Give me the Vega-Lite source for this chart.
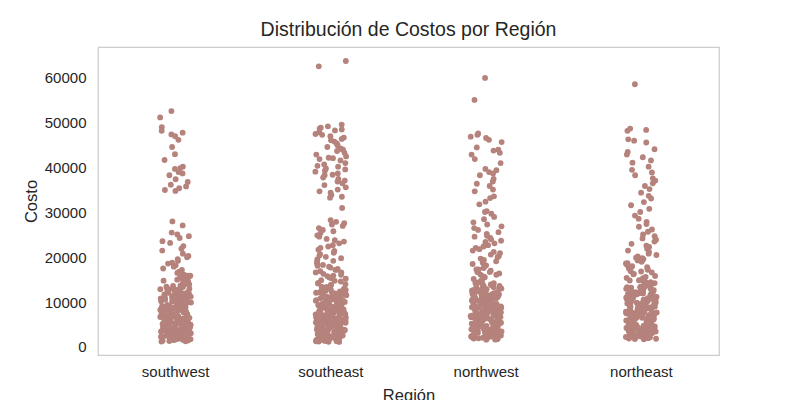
{
"$schema": "https://vega.github.io/schema/vega-lite/v6.json",
"width": 621, "height": 308,
"autosize": {"type": "none"},
"padding": {"left": 98, "top": 47, "right": 81, "bottom": 45},
"background": "white",
"title": {"text": "Distribución de Costos por Región", "fontSize": 19.5, "font": "Liberation Sans", "fontWeight": "normal", "color": "#262626", "offset": 7, "anchor": "middle"},
"data": {"values": [
{"region":"southwest","cost":52600},{"region":"southwest","cost":51200},{"region":"southwest","cost":49000},{"region":"southwest","cost":48200},{"region":"southwest","cost":47800},{"region":"southwest","cost":47400},{"region":"southwest","cost":47000},{"region":"southwest","cost":46200},{"region":"southwest","cost":44600},{"region":"southwest","cost":43000},{"region":"southwest","cost":41700},{"region":"southwest","cost":40200},{"region":"southwest","cost":39900},{"region":"southwest","cost":39700},{"region":"southwest","cost":39000},{"region":"southwest","cost":38700},{"region":"southwest","cost":38300},{"region":"southwest","cost":37400},{"region":"southwest","cost":36800},{"region":"southwest","cost":36200},{"region":"southwest","cost":35800},{"region":"southwest","cost":35400},{"region":"southwest","cost":35000},{"region":"southwest","cost":34800},
{"region":"southwest","cost":28000},{"region":"southwest","cost":27100},{"region":"southwest","cost":25500},{"region":"southwest","cost":25100},{"region":"southwest","cost":24700},{"region":"southwest","cost":24300},{"region":"southwest","cost":23600},{"region":"southwest","cost":23200},{"region":"southwest","cost":22500},{"region":"southwest","cost":21900},{"region":"southwest","cost":21500},{"region":"southwest","cost":20800},{"region":"southwest","cost":20300},{"region":"southwest","cost":20000},{"region":"southwest","cost":19600},{"region":"southwest","cost":19200},{"region":"southwest","cost":18800},{"region":"southwest","cost":18600},{"region":"southwest","cost":18200},{"region":"southwest","cost":17900},{"region":"southwest","cost":17500},{"region":"southwest","cost":17200},{"region":"southwest","cost":16800},{"region":"southwest","cost":16500},{"region":"southwest","cost":16200},{"region":"southwest","cost":15900},{"region":"southwest","cost":15600},{"region":"southwest","cost":15300},{"region":"southwest","cost":15000},{"region":"southwest","cost":14800},
{"region":"southwest","cost":1242},{"region":"southwest","cost":1391},{"region":"southwest","cost":1526},{"region":"southwest","cost":1634},{"region":"southwest","cost":1728},{"region":"southwest","cost":1837},{"region":"southwest","cost":1906},{"region":"southwest","cost":2020},{"region":"southwest","cost":2130},{"region":"southwest","cost":2254},{"region":"southwest","cost":2395},{"region":"southwest","cost":2483},{"region":"southwest","cost":2597},{"region":"southwest","cost":2709},{"region":"southwest","cost":2846},{"region":"southwest","cost":2913},{"region":"southwest","cost":3047},{"region":"southwest","cost":3161},{"region":"southwest","cost":3279},{"region":"southwest","cost":3392},{"region":"southwest","cost":3471},{"region":"southwest","cost":3594},{"region":"southwest","cost":3688},{"region":"southwest","cost":3756},{"region":"southwest","cost":3869},{"region":"southwest","cost":3982},{"region":"southwest","cost":4058},{"region":"southwest","cost":4149},{"region":"southwest","cost":4262},{"region":"southwest","cost":4358},{"region":"southwest","cost":4441},{"region":"southwest","cost":4563},{"region":"southwest","cost":4687},{"region":"southwest","cost":4739},{"region":"southwest","cost":4827},{"region":"southwest","cost":4949},{"region":"southwest","cost":5031},{"region":"southwest","cost":5152},{"region":"southwest","cost":5273},{"region":"southwest","cost":5346},{"region":"southwest","cost":5428},{"region":"southwest","cost":5579},{"region":"southwest","cost":5636},{"region":"southwest","cost":5745},{"region":"southwest","cost":5819},{"region":"southwest","cost":5938},{"region":"southwest","cost":6048},{"region":"southwest","cost":6129},{"region":"southwest","cost":6253},{"region":"southwest","cost":6378},{"region":"southwest","cost":6449},{"region":"southwest","cost":6557},{"region":"southwest","cost":6613},{"region":"southwest","cost":6742},{"region":"southwest","cost":6858},{"region":"southwest","cost":6921},{"region":"southwest","cost":7046},{"region":"southwest","cost":7152},{"region":"southwest","cost":7281},{"region":"southwest","cost":7334},{"region":"southwest","cost":7448},{"region":"southwest","cost":7562},{"region":"southwest","cost":7639},{"region":"southwest","cost":7731},{"region":"southwest","cost":7859},{"region":"southwest","cost":7947},{"region":"southwest","cost":8026},{"region":"southwest","cost":8151},{"region":"southwest","cost":8273},{"region":"southwest","cost":8342},{"region":"southwest","cost":8457},{"region":"southwest","cost":8569},{"region":"southwest","cost":8688},{"region":"southwest","cost":8752},{"region":"southwest","cost":8861},{"region":"southwest","cost":8974},{"region":"southwest","cost":9072},{"region":"southwest","cost":9183},{"region":"southwest","cost":9251},{"region":"southwest","cost":9377},{"region":"southwest","cost":9482},{"region":"southwest","cost":9593},{"region":"southwest","cost":9641},{"region":"southwest","cost":9788},{"region":"southwest","cost":9857},{"region":"southwest","cost":9962},{"region":"southwest","cost":10096},{"region":"southwest","cost":10178},{"region":"southwest","cost":10243},{"region":"southwest","cost":10362},{"region":"southwest","cost":10493},{"region":"southwest","cost":10579},{"region":"southwest","cost":10643},{"region":"southwest","cost":10797},{"region":"southwest","cost":10846},{"region":"southwest","cost":10972},{"region":"southwest","cost":11087},{"region":"southwest","cost":11163},{"region":"southwest","cost":11281},{"region":"southwest","cost":11356},{"region":"southwest","cost":11482},{"region":"southwest","cost":11574},{"region":"southwest","cost":11693},{"region":"southwest","cost":11747},{"region":"southwest","cost":11836},{"region":"southwest","cost":11958},{"region":"southwest","cost":12044},{"region":"southwest","cost":12157},{"region":"southwest","cost":12263},{"region":"southwest","cost":12395},{"region":"southwest","cost":12487},{"region":"southwest","cost":12531},{"region":"southwest","cost":12688},{"region":"southwest","cost":12741},{"region":"southwest","cost":12893},{"region":"southwest","cost":12977},{"region":"southwest","cost":13143},{"region":"southwest","cost":13298},{"region":"southwest","cost":13462},{"region":"southwest","cost":13689},{"region":"southwest","cost":13857},{"region":"southwest","cost":14096},{"region":"southwest","cost":14328},{"region":"southwest","cost":14561},
{"region":"southwest","cost":1187},{"region":"southwest","cost":1305},{"region":"southwest","cost":1459},{"region":"southwest","cost":1572},{"region":"southwest","cost":1688},{"region":"southwest","cost":1779},{"region":"southwest","cost":1893},{"region":"southwest","cost":1964},{"region":"southwest","cost":2077},{"region":"southwest","cost":2196},{"region":"southwest","cost":2318},{"region":"southwest","cost":2441},{"region":"southwest","cost":2553},{"region":"southwest","cost":2662},{"region":"southwest","cost":2788},{"region":"southwest","cost":2871},{"region":"southwest","cost":2995},{"region":"southwest","cost":3108},{"region":"southwest","cost":3224},{"region":"southwest","cost":3336},{"region":"southwest","cost":3427},{"region":"southwest","cost":3549},{"region":"southwest","cost":3637},{"region":"southwest","cost":3812},{"region":"southwest","cost":3924},{"region":"southwest","cost":4013},{"region":"southwest","cost":4207},{"region":"southwest","cost":4315},{"region":"southwest","cost":4496},{"region":"southwest","cost":4612},{"region":"southwest","cost":4778},{"region":"southwest","cost":4893},{"region":"southwest","cost":5097},{"region":"southwest","cost":5214},{"region":"southwest","cost":5391},{"region":"southwest","cost":5517},{"region":"southwest","cost":5693},{"region":"southwest","cost":5872},{"region":"southwest","cost":5989},{"region":"southwest","cost":6187},{"region":"southwest","cost":6316},{"region":"southwest","cost":6493},{"region":"southwest","cost":6682},{"region":"southwest","cost":6794},{"region":"southwest","cost":6973},{"region":"southwest","cost":7108},{"region":"southwest","cost":7237},{"region":"southwest","cost":7396},{"region":"southwest","cost":7513},{"region":"southwest","cost":7688},{"region":"southwest","cost":7796},{"region":"southwest","cost":7912},{"region":"southwest","cost":8087},{"region":"southwest","cost":8219},{"region":"southwest","cost":8398},{"region":"southwest","cost":8513},{"region":"southwest","cost":8624},{"region":"southwest","cost":8817},{"region":"southwest","cost":8923},{"region":"southwest","cost":9136},{"region":"southwest","cost":9317},{"region":"southwest","cost":9438},{"region":"southwest","cost":9524},{"region":"southwest","cost":9716},{"region":"southwest","cost":9913},{"region":"southwest","cost":10038},{"region":"southwest","cost":10219},{"region":"southwest","cost":10417},{"region":"southwest","cost":10534},{"region":"southwest","cost":10718},{"region":"southwest","cost":10917},{"region":"southwest","cost":11042},{"region":"southwest","cost":11223},{"region":"southwest","cost":11418},{"region":"southwest","cost":11637},{"region":"southwest","cost":11892},{"region":"southwest","cost":12103},{"region":"southwest","cost":12316},{"region":"southwest","cost":12624},{"region":"southwest","cost":12836},{"region":"southwest","cost":13067},{"region":"southwest","cost":13381},{"region":"southwest","cost":13594},{"region":"southwest","cost":13972},{"region":"southwest","cost":14213},{"region":"southwest","cost":14788},{"region":"southwest","cost":15132},{"region":"southwest","cost":15473},{"region":"southwest","cost":15891},{"region":"southwest","cost":16347},

{"region":"southeast","cost":63770},{"region":"southeast","cost":62590},
{"region":"southeast","cost":49600},{"region":"southeast","cost":49200},{"region":"southeast","cost":48900},{"region":"southeast","cost":48700},{"region":"southeast","cost":48500},{"region":"southeast","cost":48300},{"region":"southeast","cost":47900},{"region":"southeast","cost":47500},{"region":"southeast","cost":47300},{"region":"southeast","cost":47000},{"region":"southeast","cost":46700},{"region":"southeast","cost":46400},{"region":"southeast","cost":46100},{"region":"southeast","cost":45800},{"region":"southeast","cost":45400},{"region":"southeast","cost":45000},{"region":"southeast","cost":44600},{"region":"southeast","cost":44200},{"region":"southeast","cost":44000},{"region":"southeast","cost":43700},{"region":"southeast","cost":43300},{"region":"southeast","cost":42900},{"region":"southeast","cost":42500},{"region":"southeast","cost":42200},{"region":"southeast","cost":42100},{"region":"southeast","cost":41900},{"region":"southeast","cost":41600},{"region":"southeast","cost":41000},{"region":"southeast","cost":40700},{"region":"southeast","cost":40400},{"region":"southeast","cost":40200},{"region":"southeast","cost":39800},{"region":"southeast","cost":39600},{"region":"southeast","cost":39300},{"region":"southeast","cost":39100},{"region":"southeast","cost":38700},{"region":"southeast","cost":38400},{"region":"southeast","cost":38300},{"region":"southeast","cost":37800},{"region":"southeast","cost":37500},{"region":"southeast","cost":37100},{"region":"southeast","cost":36900},{"region":"southeast","cost":36500},{"region":"southeast","cost":36100},{"region":"southeast","cost":35600},{"region":"southeast","cost":35100},{"region":"southeast","cost":34700},{"region":"southeast","cost":34400},{"region":"southeast","cost":33900},{"region":"southeast","cost":33500},{"region":"southeast","cost":33300},{"region":"southeast","cost":31000},
{"region":"southeast","cost":28300},{"region":"southeast","cost":27900},{"region":"southeast","cost":27600},{"region":"southeast","cost":27300},{"region":"southeast","cost":27000},{"region":"southeast","cost":26500},{"region":"southeast","cost":26100},{"region":"southeast","cost":25800},{"region":"southeast","cost":25400},{"region":"southeast","cost":24900},{"region":"southeast","cost":24600},{"region":"southeast","cost":24100},{"region":"southeast","cost":23800},{"region":"southeast","cost":23500},{"region":"southeast","cost":23100},{"region":"southeast","cost":22700},{"region":"southeast","cost":22400},{"region":"southeast","cost":22100},{"region":"southeast","cost":21700},{"region":"southeast","cost":21400},{"region":"southeast","cost":21000},{"region":"southeast","cost":20700},{"region":"southeast","cost":20400},{"region":"southeast","cost":20100},{"region":"southeast","cost":19800},{"region":"southeast","cost":19500},{"region":"southeast","cost":19200},{"region":"southeast","cost":18900},{"region":"southeast","cost":18700},{"region":"southeast","cost":18500},{"region":"southeast","cost":18300},{"region":"southeast","cost":18100},{"region":"southeast","cost":17900},{"region":"southeast","cost":17700},{"region":"southeast","cost":17400},{"region":"southeast","cost":17200},{"region":"southeast","cost":16900},{"region":"southeast","cost":16600},{"region":"southeast","cost":16300},{"region":"southeast","cost":16100},{"region":"southeast","cost":15800},{"region":"southeast","cost":15500},{"region":"southeast","cost":15200},{"region":"southeast","cost":14900},{"region":"southeast","cost":14600},{"region":"southeast","cost":14300},{"region":"southeast","cost":14000},{"region":"southeast","cost":13700},
{"region":"southeast","cost":1121},{"region":"southeast","cost":1252},{"region":"southeast","cost":1338},{"region":"southeast","cost":1467},{"region":"southeast","cost":1581},{"region":"southeast","cost":1633},{"region":"southeast","cost":1725},{"region":"southeast","cost":1842},{"region":"southeast","cost":1906},{"region":"southeast","cost":1989},{"region":"southeast","cost":2103},{"region":"southeast","cost":2217},{"region":"southeast","cost":2302},{"region":"southeast","cost":2419},{"region":"southeast","cost":2522},{"region":"southeast","cost":2636},{"region":"southeast","cost":2751},{"region":"southeast","cost":2803},{"region":"southeast","cost":2927},{"region":"southeast","cost":3046},{"region":"southeast","cost":3153},{"region":"southeast","cost":3268},{"region":"southeast","cost":3341},{"region":"southeast","cost":3479},{"region":"southeast","cost":3558},{"region":"southeast","cost":3617},{"region":"southeast","cost":3749},{"region":"southeast","cost":3862},{"region":"southeast","cost":3947},{"region":"southeast","cost":4033},{"region":"southeast","cost":4151},{"region":"southeast","cost":4279},{"region":"southeast","cost":4346},{"region":"southeast","cost":4427},{"region":"southeast","cost":4562},{"region":"southeast","cost":4688},{"region":"southeast","cost":4719},{"region":"southeast","cost":4836},{"region":"southeast","cost":4958},{"region":"southeast","cost":5013},{"region":"southeast","cost":5134},{"region":"southeast","cost":5247},{"region":"southeast","cost":5389},{"region":"southeast","cost":5472},{"region":"southeast","cost":5519},{"region":"southeast","cost":5668},{"region":"southeast","cost":5724},{"region":"southeast","cost":5853},{"region":"southeast","cost":5941},{"region":"southeast","cost":6079},{"region":"southeast","cost":6182},{"region":"southeast","cost":6248},{"region":"southeast","cost":6351},{"region":"southeast","cost":6497},{"region":"southeast","cost":6573},{"region":"southeast","cost":6666},{"region":"southeast","cost":6781},{"region":"southeast","cost":6829},{"region":"southeast","cost":6953},{"region":"southeast","cost":7074},{"region":"southeast","cost":7148},{"region":"southeast","cost":7263},{"region":"southeast","cost":7387},{"region":"southeast","cost":7415},{"region":"southeast","cost":7548},{"region":"southeast","cost":7639},{"region":"southeast","cost":7722},{"region":"southeast","cost":7883},{"region":"southeast","cost":7961},{"region":"southeast","cost":8027},{"region":"southeast","cost":8123},{"region":"southeast","cost":8291},{"region":"southeast","cost":8358},{"region":"southeast","cost":8437},{"region":"southeast","cost":8571},{"region":"southeast","cost":8629},{"region":"southeast","cost":8746},{"region":"southeast","cost":8874},{"region":"southeast","cost":8932},{"region":"southeast","cost":9068},{"region":"southeast","cost":9147},{"region":"southeast","cost":9285},{"region":"southeast","cost":9336},{"region":"southeast","cost":9471},{"region":"southeast","cost":9523},{"region":"southeast","cost":9682},{"region":"southeast","cost":9744},{"region":"southeast","cost":9851},{"region":"southeast","cost":9978},{"region":"southeast","cost":10043},{"region":"southeast","cost":10197},{"region":"southeast","cost":10265},{"region":"southeast","cost":10382},{"region":"southeast","cost":10436},{"region":"southeast","cost":10587},{"region":"southeast","cost":10648},{"region":"southeast","cost":10774},{"region":"southeast","cost":10831},{"region":"southeast","cost":10965},{"region":"southeast","cost":11072},{"region":"southeast","cost":11194},{"region":"southeast","cost":11243},{"region":"southeast","cost":11386},{"region":"southeast","cost":11451},{"region":"southeast","cost":11597},{"region":"southeast","cost":11662},{"region":"southeast","cost":11738},{"region":"southeast","cost":11883},{"region":"southeast","cost":11947},{"region":"southeast","cost":12089},{"region":"southeast","cost":12162},{"region":"southeast","cost":12277},{"region":"southeast","cost":12394},{"region":"southeast","cost":12456},{"region":"southeast","cost":12582},{"region":"southeast","cost":12691},{"region":"southeast","cost":12739},{"region":"southeast","cost":12874},{"region":"southeast","cost":12963},{"region":"southeast","cost":13096},{"region":"southeast","cost":13218},{"region":"southeast","cost":13377},
{"region":"southeast","cost":1163},{"region":"southeast","cost":1217},{"region":"southeast","cost":1294},{"region":"southeast","cost":1388},{"region":"southeast","cost":1429},{"region":"southeast","cost":1516},{"region":"southeast","cost":1678},{"region":"southeast","cost":1763},{"region":"southeast","cost":1871},{"region":"southeast","cost":1947},{"region":"southeast","cost":2061},{"region":"southeast","cost":2158},{"region":"southeast","cost":2264},{"region":"southeast","cost":2347},{"region":"southeast","cost":2476},{"region":"southeast","cost":2583},{"region":"southeast","cost":2694},{"region":"southeast","cost":2869},{"region":"southeast","cost":2981},{"region":"southeast","cost":3097},{"region":"southeast","cost":3214},{"region":"southeast","cost":3397},{"region":"southeast","cost":3512},{"region":"southeast","cost":3683},{"region":"southeast","cost":3794},{"region":"southeast","cost":3906},{"region":"southeast","cost":4074},{"region":"southeast","cost":4198},{"region":"southeast","cost":4313},{"region":"southeast","cost":4487},{"region":"southeast","cost":4617},{"region":"southeast","cost":4793},{"region":"southeast","cost":4886},{"region":"southeast","cost":5068},{"region":"southeast","cost":5193},{"region":"southeast","cost":5326},{"region":"southeast","cost":5437},{"region":"southeast","cost":5591},{"region":"southeast","cost":5786},{"region":"southeast","cost":5897},{"region":"southeast","cost":6023},{"region":"southeast","cost":6134},{"region":"southeast","cost":6298},{"region":"southeast","cost":6412},{"region":"southeast","cost":6538},{"region":"southeast","cost":6627},{"region":"southeast","cost":6738},{"region":"southeast","cost":6891},{"region":"southeast","cost":7013},{"region":"southeast","cost":7197},{"region":"southeast","cost":7329},{"region":"southeast","cost":7468},{"region":"southeast","cost":7597},{"region":"southeast","cost":7761},{"region":"southeast","cost":7846},{"region":"southeast","cost":8073},{"region":"southeast","cost":8219},{"region":"southeast","cost":8396},{"region":"southeast","cost":8512},{"region":"southeast","cost":8694},{"region":"southeast","cost":8817},{"region":"southeast","cost":8979},{"region":"southeast","cost":9118},{"region":"southeast","cost":9247},{"region":"southeast","cost":9398},{"region":"southeast","cost":9583},{"region":"southeast","cost":9717},{"region":"southeast","cost":9893},{"region":"southeast","cost":10116},{"region":"southeast","cost":10328},{"region":"southeast","cost":10513},{"region":"southeast","cost":10719},{"region":"southeast","cost":10897},{"region":"southeast","cost":11128},{"region":"southeast","cost":11317},{"region":"southeast","cost":11528},{"region":"southeast","cost":11793},{"region":"southeast","cost":11986},{"region":"southeast","cost":12217},{"region":"southeast","cost":12538},{"region":"southeast","cost":12816},{"region":"southeast","cost":13149},{"region":"southeast","cost":13462},{"region":"southeast","cost":13893},{"region":"southeast","cost":14168},{"region":"southeast","cost":14739},{"region":"southeast","cost":15318},{"region":"southeast","cost":15917},{"region":"southeast","cost":16624},{"region":"southeast","cost":17193},

{"region":"northwest","cost":60000},{"region":"northwest","cost":55100},
{"region":"northwest","cost":47600},{"region":"northwest","cost":47300},{"region":"northwest","cost":46900},{"region":"northwest","cost":46600},{"region":"northwest","cost":46200},{"region":"northwest","cost":45700},{"region":"northwest","cost":44500},{"region":"northwest","cost":44000},{"region":"northwest","cost":43800},{"region":"northwest","cost":43300},{"region":"northwest","cost":42900},{"region":"northwest","cost":41900},{"region":"northwest","cost":41000},{"region":"northwest","cost":39700},{"region":"northwest","cost":39400},{"region":"northwest","cost":39000},{"region":"northwest","cost":38700},{"region":"northwest","cost":38300},{"region":"northwest","cost":37500},{"region":"northwest","cost":36900},{"region":"northwest","cost":36400},{"region":"northwest","cost":35900},{"region":"northwest","cost":35100},{"region":"northwest","cost":34700},{"region":"northwest","cost":33600},{"region":"northwest","cost":33200},{"region":"northwest","cost":32400},{"region":"northwest","cost":31800},{"region":"northwest","cost":30300},{"region":"northwest","cost":30100},{"region":"northwest","cost":29700},{"region":"northwest","cost":29000},
{"region":"northwest","cost":28500},{"region":"northwest","cost":27800},{"region":"northwest","cost":27300},{"region":"northwest","cost":26900},{"region":"northwest","cost":26500},{"region":"northwest","cost":26100},{"region":"northwest","cost":25600},{"region":"northwest","cost":25200},{"region":"northwest","cost":24800},{"region":"northwest","cost":24600},{"region":"northwest","cost":24300},{"region":"northwest","cost":24000},{"region":"northwest","cost":23700},{"region":"northwest","cost":23400},{"region":"northwest","cost":23100},{"region":"northwest","cost":22700},{"region":"northwest","cost":22400},{"region":"northwest","cost":22100},{"region":"northwest","cost":21800},{"region":"northwest","cost":21500},{"region":"northwest","cost":21200},{"region":"northwest","cost":20900},{"region":"northwest","cost":20600},{"region":"northwest","cost":20300},{"region":"northwest","cost":20000},{"region":"northwest","cost":19700},{"region":"northwest","cost":19400},{"region":"northwest","cost":19100},{"region":"northwest","cost":18800},{"region":"northwest","cost":18500},{"region":"northwest","cost":18200},{"region":"northwest","cost":17900},{"region":"northwest","cost":17600},{"region":"northwest","cost":17300},{"region":"northwest","cost":17000},{"region":"northwest","cost":16700},{"region":"northwest","cost":16400},{"region":"northwest","cost":16100},{"region":"northwest","cost":15800},{"region":"northwest","cost":15500},
{"region":"northwest","cost":1621},{"region":"northwest","cost":1719},{"region":"northwest","cost":1832},{"region":"northwest","cost":1927},{"region":"northwest","cost":2048},{"region":"northwest","cost":2139},{"region":"northwest","cost":2254},{"region":"northwest","cost":2357},{"region":"northwest","cost":2461},{"region":"northwest","cost":2538},{"region":"northwest","cost":2685},{"region":"northwest","cost":2753},{"region":"northwest","cost":2867},{"region":"northwest","cost":2979},{"region":"northwest","cost":3061},{"region":"northwest","cost":3172},{"region":"northwest","cost":3297},{"region":"northwest","cost":3368},{"region":"northwest","cost":3491},{"region":"northwest","cost":3582},{"region":"northwest","cost":3659},{"region":"northwest","cost":3771},{"region":"northwest","cost":3893},{"region":"northwest","cost":3958},{"region":"northwest","cost":4094},{"region":"northwest","cost":4186},{"region":"northwest","cost":4239},{"region":"northwest","cost":4352},{"region":"northwest","cost":4478},{"region":"northwest","cost":4563},{"region":"northwest","cost":4697},{"region":"northwest","cost":4751},{"region":"northwest","cost":4888},{"region":"northwest","cost":4925},{"region":"northwest","cost":5078},{"region":"northwest","cost":5163},{"region":"northwest","cost":5216},{"region":"northwest","cost":5349},{"region":"northwest","cost":5487},{"region":"northwest","cost":5541},{"region":"northwest","cost":5663},{"region":"northwest","cost":5798},{"region":"northwest","cost":5836},{"region":"northwest","cost":5977},{"region":"northwest","cost":6043},{"region":"northwest","cost":6158},{"region":"northwest","cost":6271},{"region":"northwest","cost":6393},{"region":"northwest","cost":6426},{"region":"northwest","cost":6582},{"region":"northwest","cost":6638},{"region":"northwest","cost":6757},{"region":"northwest","cost":6879},{"region":"northwest","cost":6914},{"region":"northwest","cost":7058},{"region":"northwest","cost":7163},{"region":"northwest","cost":7229},{"region":"northwest","cost":7348},{"region":"northwest","cost":7466},{"region":"northwest","cost":7592},{"region":"northwest","cost":7637},{"region":"northwest","cost":7783},{"region":"northwest","cost":7846},{"region":"northwest","cost":7969},{"region":"northwest","cost":8091},{"region":"northwest","cost":8138},{"region":"northwest","cost":8267},{"region":"northwest","cost":8352},{"region":"northwest","cost":8489},{"region":"northwest","cost":8526},{"region":"northwest","cost":8643},{"region":"northwest","cost":8798},{"region":"northwest","cost":8859},{"region":"northwest","cost":8987},{"region":"northwest","cost":9039},{"region":"northwest","cost":9174},{"region":"northwest","cost":9288},{"region":"northwest","cost":9316},{"region":"northwest","cost":9457},{"region":"northwest","cost":9563},{"region":"northwest","cost":9691},{"region":"northwest","cost":9742},{"region":"northwest","cost":9864},{"region":"northwest","cost":9938},{"region":"northwest","cost":10079},{"region":"northwest","cost":10152},{"region":"northwest","cost":10296},{"region":"northwest","cost":10347},{"region":"northwest","cost":10468},{"region":"northwest","cost":10583},{"region":"northwest","cost":10629},{"region":"northwest","cost":10762},{"region":"northwest","cost":10891},{"region":"northwest","cost":10943},{"region":"northwest","cost":11068},{"region":"northwest","cost":11187},{"region":"northwest","cost":11232},{"region":"northwest","cost":11379},{"region":"northwest","cost":11448},{"region":"northwest","cost":11563},{"region":"northwest","cost":11691},{"region":"northwest","cost":11756},{"region":"northwest","cost":11873},{"region":"northwest","cost":11994},{"region":"northwest","cost":12086},{"region":"northwest","cost":12137},{"region":"northwest","cost":12268},{"region":"northwest","cost":12355},{"region":"northwest","cost":12497},{"region":"northwest","cost":12574},{"region":"northwest","cost":12682},{"region":"northwest","cost":12749},{"region":"northwest","cost":12898},{"region":"northwest","cost":12963},{"region":"northwest","cost":13089},{"region":"northwest","cost":13242},{"region":"northwest","cost":13395},{"region":"northwest","cost":13557},{"region":"northwest","cost":13686},{"region":"northwest","cost":13842},{"region":"northwest","cost":14037},{"region":"northwest","cost":14213},{"region":"northwest","cost":14452},{"region":"northwest","cost":14689},{"region":"northwest","cost":14932},
{"region":"northwest","cost":1642},{"region":"northwest","cost":1768},{"region":"northwest","cost":1881},{"region":"northwest","cost":1973},{"region":"northwest","cost":2093},{"region":"northwest","cost":2198},{"region":"northwest","cost":2311},{"region":"northwest","cost":2409},{"region":"northwest","cost":2497},{"region":"northwest","cost":2614},{"region":"northwest","cost":2719},{"region":"northwest","cost":2812},{"region":"northwest","cost":2936},{"region":"northwest","cost":3019},{"region":"northwest","cost":3128},{"region":"northwest","cost":3243},{"region":"northwest","cost":3331},{"region":"northwest","cost":3447},{"region":"northwest","cost":3538},{"region":"northwest","cost":3617},{"region":"northwest","cost":3724},{"region":"northwest","cost":3836},{"region":"northwest","cost":3919},{"region":"northwest","cost":4046},{"region":"northwest","cost":4137},{"region":"northwest","cost":4293},{"region":"northwest","cost":4417},{"region":"northwest","cost":4528},{"region":"northwest","cost":4649},{"region":"northwest","cost":4817},{"region":"northwest","cost":4963},{"region":"northwest","cost":5117},{"region":"northwest","cost":5287},{"region":"northwest","cost":5413},{"region":"northwest","cost":5598},{"region":"northwest","cost":5719},{"region":"northwest","cost":5893},{"region":"northwest","cost":6094},{"region":"northwest","cost":6213},{"region":"northwest","cost":6338},{"region":"northwest","cost":6497},{"region":"northwest","cost":6693},{"region":"northwest","cost":6817},{"region":"northwest","cost":6972},{"region":"northwest","cost":7097},{"region":"northwest","cost":7286},{"region":"northwest","cost":7413},{"region":"northwest","cost":7548},{"region":"northwest","cost":7719},{"region":"northwest","cost":7894},{"region":"northwest","cost":8036},{"region":"northwest","cost":8193},{"region":"northwest","cost":8317},{"region":"northwest","cost":8438},{"region":"northwest","cost":8597},{"region":"northwest","cost":8718},{"region":"northwest","cost":8913},{"region":"northwest","cost":9097},{"region":"northwest","cost":9219},{"region":"northwest","cost":9392},{"region":"northwest","cost":9518},{"region":"northwest","cost":9619},{"region":"northwest","cost":9813},{"region":"northwest","cost":10027},{"region":"northwest","cost":10213},{"region":"northwest","cost":10398},{"region":"northwest","cost":10527},{"region":"northwest","cost":10714},{"region":"northwest","cost":10836},{"region":"northwest","cost":11018},{"region":"northwest","cost":11297},{"region":"northwest","cost":11512},{"region":"northwest","cost":11617},{"region":"northwest","cost":11813},{"region":"northwest","cost":12038},{"region":"northwest","cost":12213},{"region":"northwest","cost":12418},{"region":"northwest","cost":12627},{"region":"northwest","cost":12817},{"region":"northwest","cost":13016},{"region":"northwest","cost":13317},{"region":"northwest","cost":13613},{"region":"northwest","cost":13927},{"region":"northwest","cost":14318},{"region":"northwest","cost":14773},{"region":"northwest","cost":15163},{"region":"northwest","cost":15637},{"region":"northwest","cost":16138},{"region":"northwest","cost":16719},{"region":"northwest","cost":17287},

{"region":"northeast","cost":58600},
{"region":"northeast","cost":48700},{"region":"northeast","cost":48400},{"region":"northeast","cost":48200},{"region":"northeast","cost":46300},{"region":"northeast","cost":46000},{"region":"northeast","cost":45600},{"region":"northeast","cost":44100},{"region":"northeast","cost":43500},{"region":"northeast","cost":42900},{"region":"northeast","cost":42300},{"region":"northeast","cost":41600},{"region":"northeast","cost":41100},{"region":"northeast","cost":40200},{"region":"northeast","cost":39500},{"region":"northeast","cost":38900},{"region":"northeast","cost":38300},{"region":"northeast","cost":37600},{"region":"northeast","cost":37100},{"region":"northeast","cost":36500},{"region":"northeast","cost":35900},{"region":"northeast","cost":35200},{"region":"northeast","cost":34400},{"region":"northeast","cost":33700},{"region":"northeast","cost":33100},{"region":"northeast","cost":32300},{"region":"northeast","cost":31600},{"region":"northeast","cost":30800},{"region":"northeast","cost":30100},
{"region":"northeast","cost":29300},{"region":"northeast","cost":28600},{"region":"northeast","cost":27900},{"region":"northeast","cost":27400},{"region":"northeast","cost":26800},{"region":"northeast","cost":26200},{"region":"northeast","cost":25700},{"region":"northeast","cost":25100},{"region":"northeast","cost":24700},{"region":"northeast","cost":24200},{"region":"northeast","cost":23900},{"region":"northeast","cost":23500},{"region":"northeast","cost":23000},{"region":"northeast","cost":22600},{"region":"northeast","cost":22300},{"region":"northeast","cost":21900},{"region":"northeast","cost":21500},{"region":"northeast","cost":21200},{"region":"northeast","cost":20800},{"region":"northeast","cost":20500},{"region":"northeast","cost":20200},{"region":"northeast","cost":19900},{"region":"northeast","cost":19600},{"region":"northeast","cost":19300},{"region":"northeast","cost":19000},{"region":"northeast","cost":18700},{"region":"northeast","cost":18400},{"region":"northeast","cost":18100},{"region":"northeast","cost":17800},{"region":"northeast","cost":17500},{"region":"northeast","cost":17200},{"region":"northeast","cost":16900},{"region":"northeast","cost":16600},{"region":"northeast","cost":16300},
{"region":"northeast","cost":1712},{"region":"northeast","cost":1823},{"region":"northeast","cost":1947},{"region":"northeast","cost":2031},{"region":"northeast","cost":2169},{"region":"northeast","cost":2284},{"region":"northeast","cost":2351},{"region":"northeast","cost":2478},{"region":"northeast","cost":2592},{"region":"northeast","cost":2637},{"region":"northeast","cost":2764},{"region":"northeast","cost":2881},{"region":"northeast","cost":2953},{"region":"northeast","cost":3087},{"region":"northeast","cost":3142},{"region":"northeast","cost":3276},{"region":"northeast","cost":3389},{"region":"northeast","cost":3455},{"region":"northeast","cost":3573},{"region":"northeast","cost":3691},{"region":"northeast","cost":3748},{"region":"northeast","cost":3862},{"region":"northeast","cost":3974},{"region":"northeast","cost":4086},{"region":"northeast","cost":4153},{"region":"northeast","cost":4297},{"region":"northeast","cost":4368},{"region":"northeast","cost":4421},{"region":"northeast","cost":4569},{"region":"northeast","cost":4634},{"region":"northeast","cost":4752},{"region":"northeast","cost":4883},{"region":"northeast","cost":4941},{"region":"northeast","cost":5067},{"region":"northeast","cost":5138},{"region":"northeast","cost":5292},{"region":"northeast","cost":5331},{"region":"northeast","cost":5473},{"region":"northeast","cost":5548},{"region":"northeast","cost":5689},{"region":"northeast","cost":5726},{"region":"northeast","cost":5859},{"region":"northeast","cost":5912},{"region":"northeast","cost":6043},{"region":"northeast","cost":6167},{"region":"northeast","cost":6284},{"region":"northeast","cost":6319},{"region":"northeast","cost":6458},{"region":"northeast","cost":6571},{"region":"northeast","cost":6636},{"region":"northeast","cost":6782},{"region":"northeast","cost":6847},{"region":"northeast","cost":6963},{"region":"northeast","cost":7081},{"region":"northeast","cost":7129},{"region":"northeast","cost":7264},{"region":"northeast","cost":7392},{"region":"northeast","cost":7417},{"region":"northeast","cost":7553},{"region":"northeast","cost":7628},{"region":"northeast","cost":7769},{"region":"northeast","cost":7841},{"region":"northeast","cost":7986},{"region":"northeast","cost":8032},{"region":"northeast","cost":8174},{"region":"northeast","cost":8259},{"region":"northeast","cost":8383},{"region":"northeast","cost":8446},{"region":"northeast","cost":8597},{"region":"northeast","cost":8661},{"region":"northeast","cost":8738},{"region":"northeast","cost":8872},{"region":"northeast","cost":8993},{"region":"northeast","cost":9047},{"region":"northeast","cost":9185},{"region":"northeast","cost":9236},{"region":"northeast","cost":9361},{"region":"northeast","cost":9478},{"region":"northeast","cost":9542},{"region":"northeast","cost":9687},{"region":"northeast","cost":9723},{"region":"northeast","cost":9856},{"region":"northeast","cost":9971},{"region":"northeast","cost":10028},{"region":"northeast","cost":10164},{"region":"northeast","cost":10253},{"region":"northeast","cost":10377},{"region":"northeast","cost":10489},{"region":"northeast","cost":10546},{"region":"northeast","cost":10672},{"region":"northeast","cost":10738},{"region":"northeast","cost":10857},{"region":"northeast","cost":10982},{"region":"northeast","cost":11043},{"region":"northeast","cost":11176},{"region":"northeast","cost":11289},{"region":"northeast","cost":11334},{"region":"northeast","cost":11467},{"region":"northeast","cost":11582},{"region":"northeast","cost":11649},{"region":"northeast","cost":11791},{"region":"northeast","cost":11838},{"region":"northeast","cost":11964},{"region":"northeast","cost":12075},{"region":"northeast","cost":12146},{"region":"northeast","cost":12288},{"region":"northeast","cost":12367},{"region":"northeast","cost":12493},{"region":"northeast","cost":12536},{"region":"northeast","cost":12678},{"region":"northeast","cost":12741},{"region":"northeast","cost":12869},{"region":"northeast","cost":12952},{"region":"northeast","cost":13071},{"region":"northeast","cost":13194},{"region":"northeast","cost":13286},{"region":"northeast","cost":13435},{"region":"northeast","cost":13572},{"region":"northeast","cost":13716},{"region":"northeast","cost":13891},{"region":"northeast","cost":14047},{"region":"northeast","cost":14238},{"region":"northeast","cost":14456},{"region":"northeast","cost":14673},{"region":"northeast","cost":14882},{"region":"northeast","cost":15137},{"region":"northeast","cost":15386},{"region":"northeast","cost":15642},
{"region":"northeast","cost":1746},{"region":"northeast","cost":1879},{"region":"northeast","cost":1993},{"region":"northeast","cost":2097},{"region":"northeast","cost":2213},{"region":"northeast","cost":2319},{"region":"northeast","cost":2417},{"region":"northeast","cost":2539},{"region":"northeast","cost":2613},{"region":"northeast","cost":2719},{"region":"northeast","cost":2817},{"region":"northeast","cost":2918},{"region":"northeast","cost":3018},{"region":"northeast","cost":3193},{"region":"northeast","cost":3317},{"region":"northeast","cost":3419},{"region":"northeast","cost":3513},{"region":"northeast","cost":3618},{"region":"northeast","cost":3716},{"region":"northeast","cost":3817},{"region":"northeast","cost":3918},{"region":"northeast","cost":4018},{"region":"northeast","cost":4219},{"region":"northeast","cost":4319},{"region":"northeast","cost":4493},{"region":"northeast","cost":4597},{"region":"northeast","cost":4698},{"region":"northeast","cost":4817},{"region":"northeast","cost":4997},{"region":"northeast","cost":5096},{"region":"northeast","cost":5213},{"region":"northeast","cost":5419},{"region":"northeast","cost":5613},{"region":"northeast","cost":5817},{"region":"northeast","cost":5973},{"region":"northeast","cost":6117},{"region":"northeast","cost":6213},{"region":"northeast","cost":6397},{"region":"northeast","cost":6513},{"region":"northeast","cost":6719},{"region":"northeast","cost":6913},{"region":"northeast","cost":7019},{"region":"northeast","cost":7197},{"region":"northeast","cost":7328},{"region":"northeast","cost":7493},{"region":"northeast","cost":7697},{"region":"northeast","cost":7913},{"region":"northeast","cost":8097},{"region":"northeast","cost":8218},{"region":"northeast","cost":8317},{"region":"northeast","cost":8519},{"region":"northeast","cost":8719},{"region":"northeast","cost":8817},{"region":"northeast","cost":8913},{"region":"northeast","cost":9113},{"region":"northeast","cost":9319},{"region":"northeast","cost":9413},{"region":"northeast","cost":9617},{"region":"northeast","cost":9813},{"region":"northeast","cost":9916},{"region":"northeast","cost":10097},{"region":"northeast","cost":10318},{"region":"northeast","cost":10413},{"region":"northeast","cost":10617},{"region":"northeast","cost":10817},{"region":"northeast","cost":10913},{"region":"northeast","cost":11117},{"region":"northeast","cost":11413},{"region":"northeast","cost":11718},{"region":"northeast","cost":11917},{"region":"northeast","cost":12213},{"region":"northeast","cost":12418},{"region":"northeast","cost":12617},{"region":"northeast","cost":12817},{"region":"northeast","cost":13013},{"region":"northeast","cost":13318},{"region":"northeast","cost":13517},{"region":"northeast","cost":13813},{"region":"northeast","cost":14117},{"region":"northeast","cost":14417},{"region":"northeast","cost":14813},{"region":"northeast","cost":15313},{"region":"northeast","cost":15813},{"region":"northeast","cost":16213},{"region":"northeast","cost":16817},{"region":"northeast","cost":17413},{"region":"northeast","cost":18013},{"region":"northeast","cost":18613},{"region":"northeast","cost":19213},{"region":"northeast","cost":19813}
]},
"transform": [{"calculate": "(((abs(sin(datum.cost * 12.9898)) * 43758.5453) % 1) - 0.5) * 0.2", "as": "jitter"}],
"mark": {"type": "circle", "size": 34, "opacity": 1, "color": "#b5827c"},
"encoding": {
"x": {"field": "region", "type": "nominal", "sort": ["southwest", "southeast", "northwest", "northeast"], "scale": {"paddingInner": 0, "paddingOuter": 0}, "axis": {"title": "Región", "labelAngle": 0, "ticks": false, "domain": false, "labelPadding": 9, "titlePadding": 8}},
"xOffset": {"field": "jitter", "type": "quantitative", "scale": {"domain": [-0.5, 0.5]}},
"y": {"field": "cost", "type": "quantitative", "scale": {"domain": [-1800, 66900], "nice": false, "zero": false}, "axis": {"title": "Costo", "values": [0, 10000, 20000, 30000, 40000, 50000, 60000], "format": "d", "grid": false, "ticks": false, "domain": false, "labelPadding": 12, "titlePadding": 5}}
},
"config": {
"view": {"stroke": "#cccccc", "strokeWidth": 1.25},
"axis": {"labelFont": "Liberation Sans", "labelFontSize": 15, "labelColor": "#262626", "titleFont": "Liberation Sans", "titleFontSize": 16.5, "titleFontWeight": "normal", "titleColor": "#262626"}
}
}
